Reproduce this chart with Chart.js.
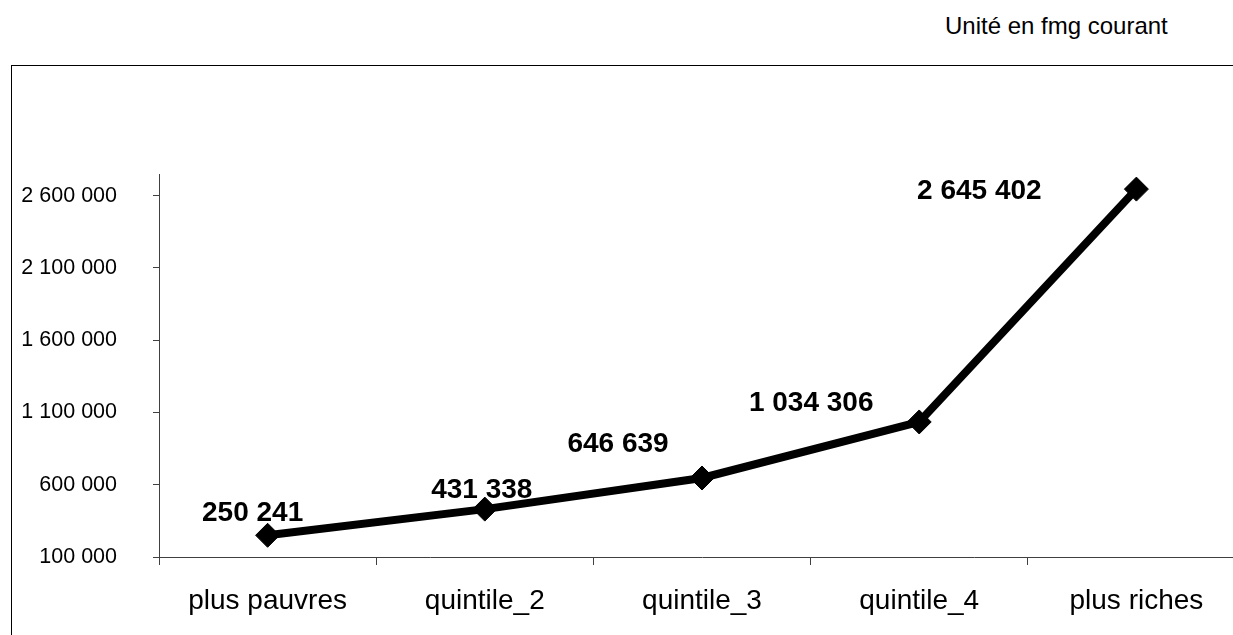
<!DOCTYPE html>
<html>
<head>
<meta charset="utf-8">
<script src="https://cdn.jsdelivr.net/npm/chart.js@4/dist/chart.umd.min.js"></script>
<style>
  html, body { margin: 0; padding: 0; background: #fff; overflow: hidden; width: 1233px; height: 635px; }
  #frame { position: absolute; left: 11px; top: 65px; width: 1222px; height: 570px; border-left: 1px solid #000; border-top: 1px solid #000; box-sizing: border-box; }
  #unit { position: absolute; left: 945px; top: 12px; font: 24px "Liberation Sans", Arial, sans-serif; color: #000; white-space: nowrap; }
  #wrap { position: absolute; left: 0; top: 0; width: 1233px; height: 635px; overflow: hidden; }
</style>
</head>
<body>
<div id="frame"></div>
<div id="unit">Unité en fmg courant</div>
<div id="wrap"><canvas id="c" width="1280" height="635"></canvas></div>
<script>
const categories = ["plus pauvres", "quintile_2", "quintile_3", "quintile_4", "plus riches"];
const incomes = [250241, 431338, 646639, 1034306, 2645402];
const yTicks = [100000, 600000, 1100000, 1600000, 2100000, 2600000];
// where each value label sits relative to its point (px)
const labelOffsets = [[-15, -22], [-3, -19], [-84, -34], [-108, -19], [-157, 2]];

const FONT = "'Liberation Sans', Arial, sans-serif";

function fmt(v) {
  return String(Math.round(v)).replace(/\B(?=(\d{3})+(?!\d))/g, " ");
}

const valueLabels = {
  id: "valueLabels",
  afterDatasetsDraw(chart) {
    const ctx = chart.ctx;
    const meta = chart.getDatasetMeta(0);
    ctx.save();
    ctx.font = "bold 28px " + FONT;
    ctx.fillStyle = "#000";
    ctx.textAlign = "center";
    ctx.textBaseline = "middle";
    meta.data.forEach((pt, i) => {
      const [dx, dy] = labelOffsets[i];
      ctx.fillText(fmt(incomes[i]), pt.x + dx, pt.y + dy);
    });
    ctx.restore();
  }
};

new Chart(document.getElementById("c"), {
  type: "line",
  data: {
    labels: categories,
    datasets: [{
      data: incomes,
      borderColor: "#000",
      backgroundColor: "#000",
      borderWidth: 8,
      tension: 0,
      pointStyle: "rectRot",
      pointRadius: 12,
      pointBorderWidth: 1,
      pointBackgroundColor: "#000",
      pointBorderColor: "#000"
    }]
  },
  options: {
    responsive: false,
    animation: false,
    layout: { padding: { top: 174, left: 0, right: 35, bottom: 0 } },
    plugins: { legend: { display: false }, tooltip: { enabled: false }, title: { display: false } },
    scales: {
      x: {
        offset: true,
        afterFit(s) { s.height = 78; },
        grid: { offset: true, drawOnChartArea: false, drawTicks: true, tickLength: 8, color: "#404040" },
        border: { color: "#404040", width: 1 },
        ticks: { color: "#000", font: { family: FONT, size: 28 }, padding: 19, maxRotation: 0, autoSkip: false }
      },
      y: {
        min: 100000,
        max: 2750000,
        afterFit(s) { s.width = 159; },
        afterBuildTicks(s) { s.ticks = yTicks.map(v => ({ value: v })); },
        grid: { drawOnChartArea: false, drawTicks: true, tickLength: 6, color: "#404040" },
        border: { color: "#404040", width: 1 },
        ticks: { color: "#000", font: { family: FONT, size: 21.5 }, padding: 36, callback: v => fmt(v) }
      }
    }
  },
  plugins: [valueLabels]
});
</script>
</body>
</html>
